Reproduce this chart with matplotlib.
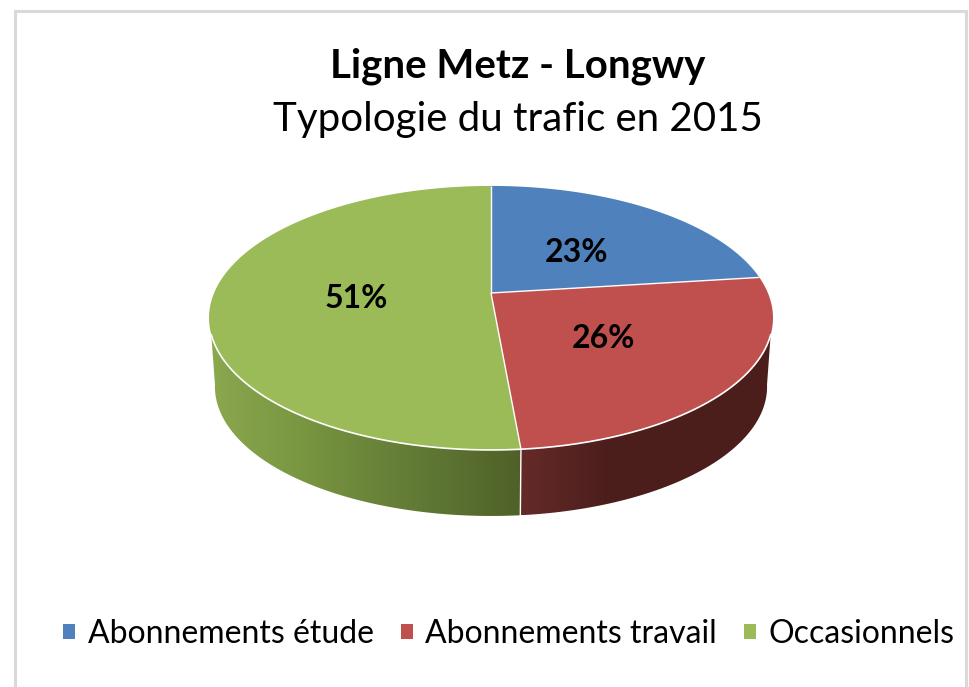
import numpy as np
import matplotlib
matplotlib.use("Agg")
import matplotlib.pyplot as plt
from matplotlib.colors import LinearSegmentedColormap
from matplotlib.patches import Patch, Polygon

plt.rcParams['font.family'] = ['Lato', 'DejaVu Sans']

# Data
categories = ["Abonnements étude", "Abonnements travail", "Occasionnels"]
values = [23.0, 25.6, 51.4]
title_main = "Ligne Metz - Longwy"
title_sub = "Typologie du trafic en 2015"

# Styles
colors = ["#4f81bd", "#c0504d", "#9bbb59"]
side_ramps = [["#2c4a6e", "#2c4a6e"],
              ["#652a28", "#4c1f1d", "#4b1e1c", "#4b1e1c"],
              ["#8ba84f", "#76933f", "#617a35", "#4f6128"]]
CX, CY = 491.0, 293.0      # apex in pixels
A, C, K = 276.9, 127.3, 0.189   # perspective projection of the unit disc
VY, S = 3593.0, 0.979      # vanishing point / scale of the lower rim
SIL = np.deg2rad(108.0)    # rim angle at which the side wall appears (top)
SIL_LOW = np.deg2rad(100.0)  # same for the lower rim
W, H = 969, 687

fig = plt.figure(figsize=(W / 100, H / 100), dpi=100, facecolor="white")
ax = fig.add_axes([0, 0, 1, 1])


def rim(theta):
    """Clockwise angle from the top -> pixel position on the upper rim."""
    x, y = np.sin(theta), np.cos(theta)
    w = 1 + K * y
    return CX + A * x / w, CY - C * y / w


def lower(px, py):
    return CX + (px - CX) * S, VY + (py - VY) * S


# wedge limits come from the values
fractions = np.array(values) / np.sum(values)
edges = np.concatenate([[0], np.cumsum(fractions)]) * 2 * np.pi

# side walls
for i in range(3):
    t0 = max(edges[i], SIL)
    t1 = min(edges[i + 1], 2 * np.pi - SIL)
    if t1 <= t0:
        continue
    ux, uy = rim(np.linspace(t0, t1, 300))
    lx, ly = lower(*rim(np.linspace(max(edges[i], SIL_LOW),
                                    min(edges[i + 1], 2 * np.pi - SIL_LOW), 300)))
    verts = np.vstack([np.c_[ux, uy], np.c_[lx, ly][::-1]])
    poly = Polygon(verts, closed=True, facecolor="none", edgecolor="none",
                   transform=ax.transData)
    ax.add_patch(poly)
    xmin, xmax = verts[:, 0].min(), verts[:, 0].max()
    ymin, ymax = verts[:, 1].min(), verts[:, 1].max()
    ramp = np.linspace(0, 1, 256)[None, :]
    cmap = LinearSegmentedColormap.from_list("s", side_ramps[i])
    im = ax.imshow(ramp, extent=[xmin, xmax, ymax, ymin], cmap=cmap,
                   aspect="auto", zorder=1)
    im.set_clip_path(poly)

# seam between the walls on the front
for e in edges[1:-1]:
    if SIL < e < 2 * np.pi - SIL:
        ux, uy = rim(np.array([e]))
        lx, ly = lower(ux, uy)
        ax.plot([ux[0], lx[0]], [uy[0], ly[0]], color="white", lw=1.0, zorder=2)

# top face
for i in range(3):
    th = np.linspace(edges[i], edges[i + 1], 300)
    ux, uy = rim(th)
    verts = np.vstack([[CX, CY], np.c_[ux, uy]])
    ax.add_patch(Polygon(verts, closed=True, facecolor=colors[i],
                         edgecolor="none", zorder=3))
# white lines: radii and the front rim
for e in edges[:-1]:
    ux, uy = rim(np.array([e]))
    ax.plot([CX, ux[0]], [CY, uy[0]], color="white", lw=1.0, zorder=4,
            solid_capstyle="butt")
th = np.linspace(SIL, 2 * np.pi - SIL, 500)
ux, uy = rim(th)
ax.plot(ux, uy, color="white", lw=1.2, zorder=4)

# data labels
label_pos = [(577, 252), (603, 339), (356, 299)]
for v, (lx, ly) in zip(values, label_pos):
    ax.text(lx, ly, f"{v:.0f}%", ha="center", va="center", fontsize=23,
            fontweight="bold", color="black", zorder=5)

# titles
ax.text(518, 66, title_main, ha="center", va="center", fontsize=29,
        fontweight="bold", color="black")
ax.text(518, 119, title_sub, ha="center", va="center", fontsize=29, color="black")

# chart frame (no bottom side)
border = "#d9d9d9"
ax.plot([15.5, 15.5, 966.5, 966.5], [687, 10.5, 10.5, 687], color=border, lw=2.2,
        solid_joinstyle="miter")

# legend
handles = [Patch(facecolor=c, edgecolor="none") for c in colors]
ax.legend(handles, categories, loc="center", bbox_to_anchor=(509 / W, 1 - 634 / H),
          ncol=3, frameon=False, fontsize=23.0, handlelength=0.37, handleheight=0.37,
          handletextpad=0.4, columnspacing=0.85, borderpad=0, borderaxespad=0)

ax.set_xlim(0, W)
ax.set_ylim(H, 0)
ax.axis("off")
fig.savefig("out.png", dpi=100, facecolor="white")
